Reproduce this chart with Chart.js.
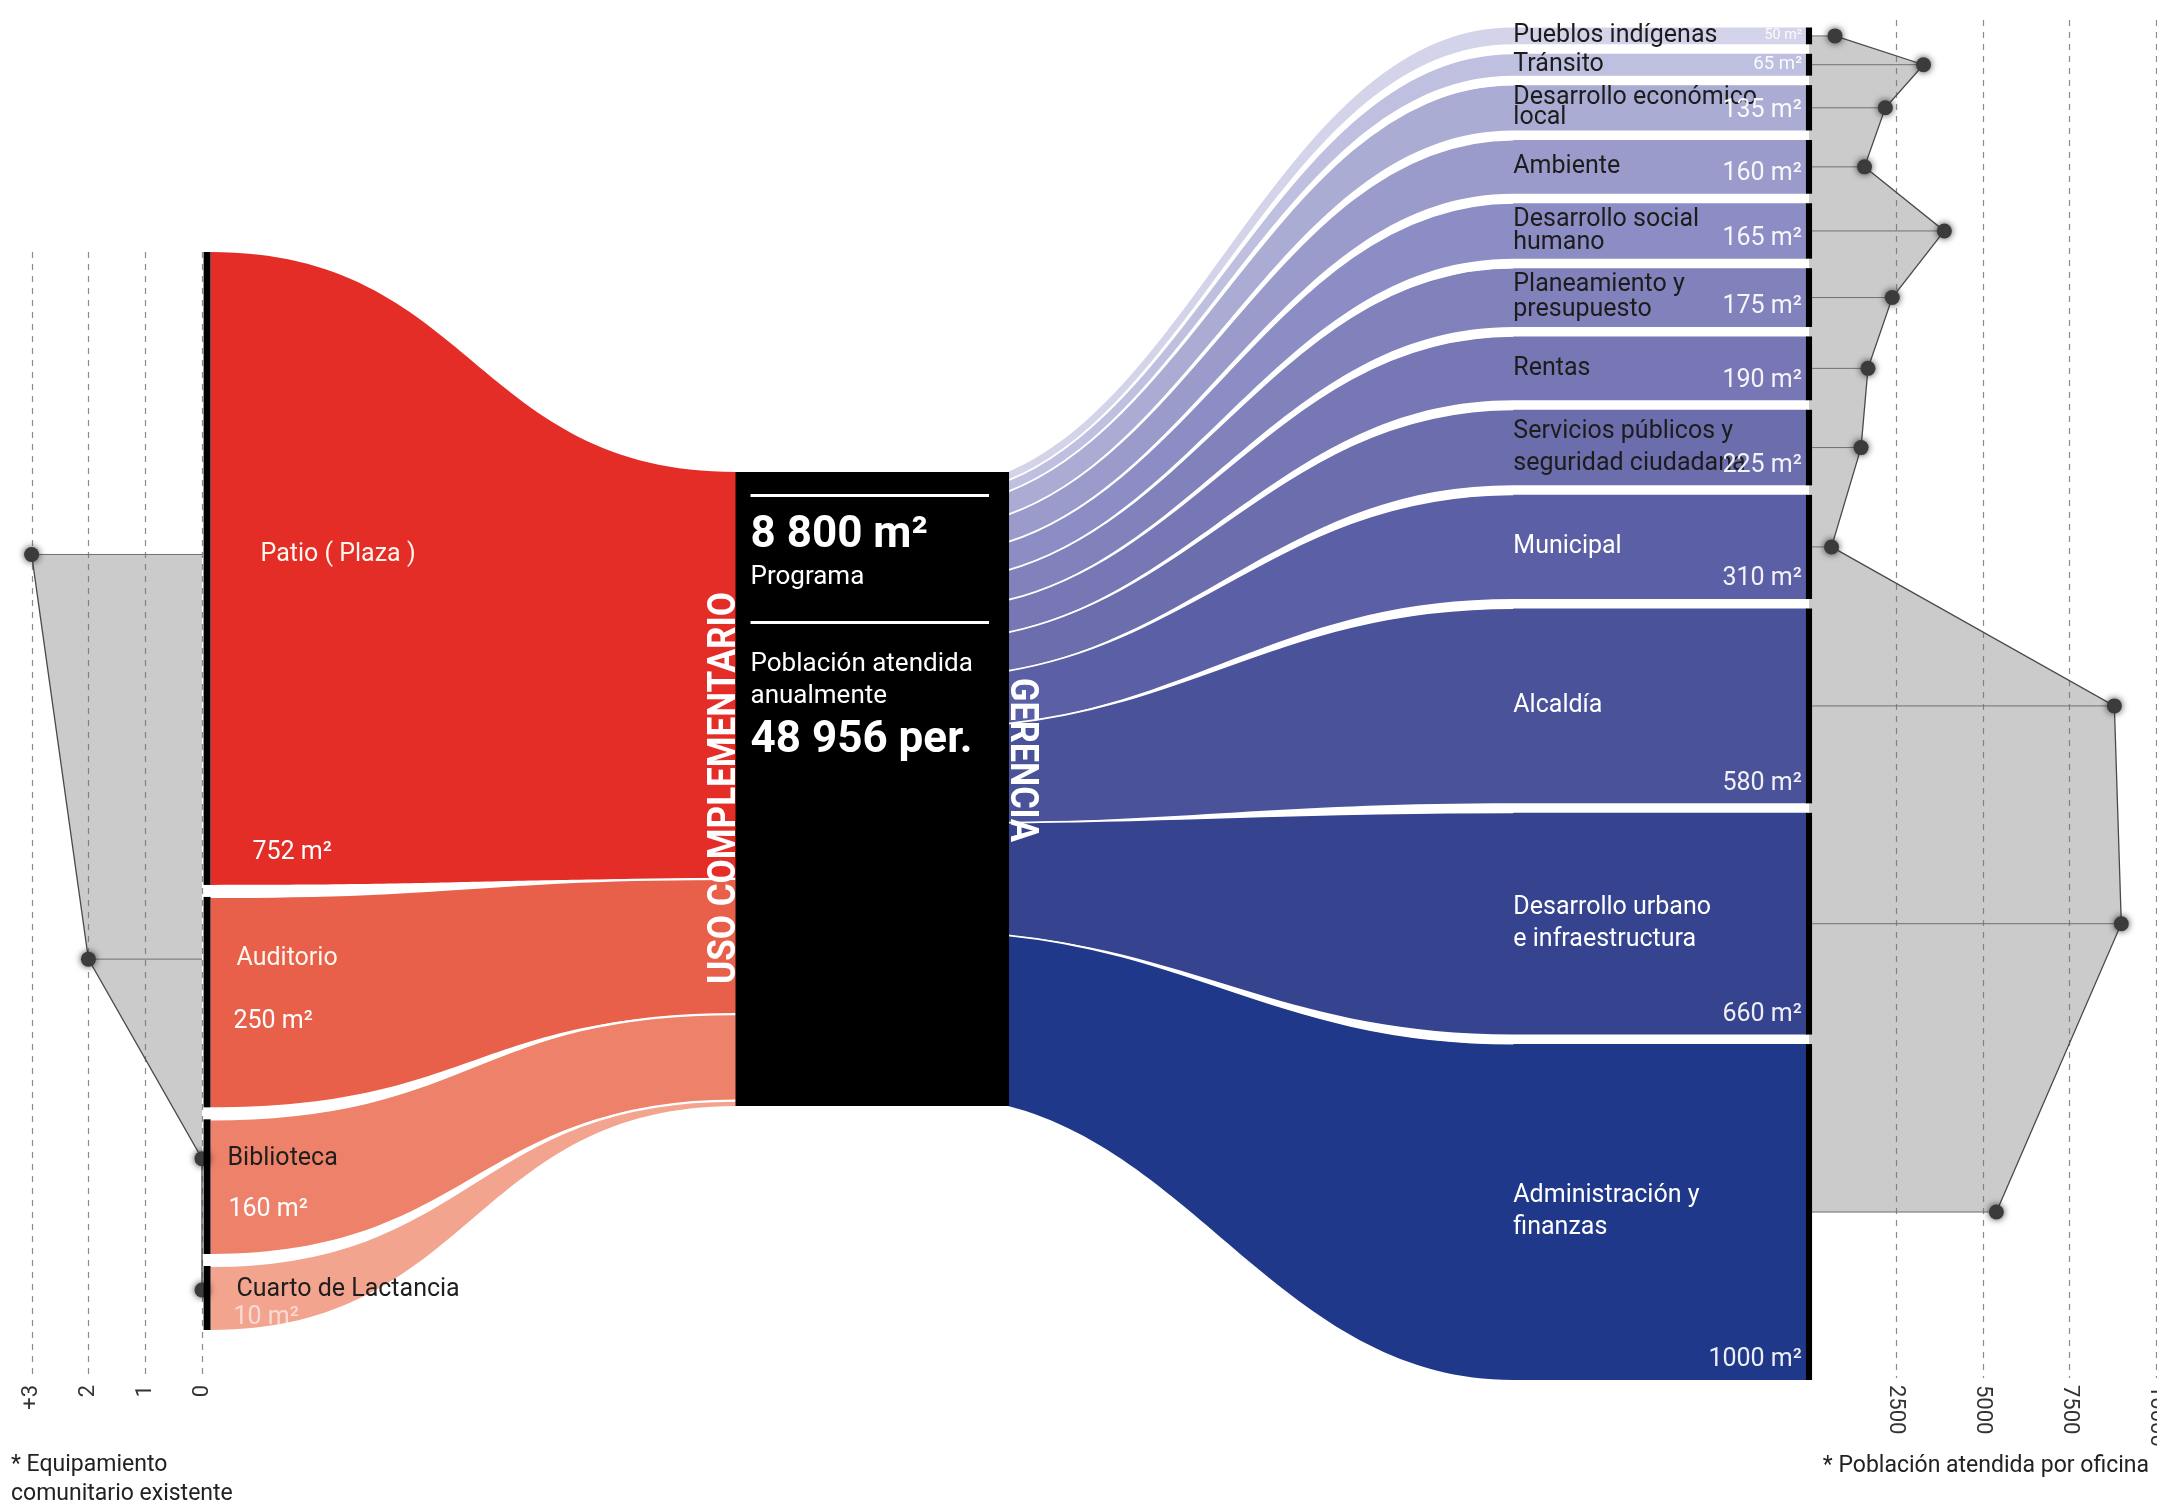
<!DOCTYPE html>
<html lang="es">
<head>
<meta charset="utf-8">
<title>Programa – uso complementario y gerencia</title>
<script src="https://cdn.jsdelivr.net/npm/chart.js@4.4.1/dist/chart.umd.min.js"></script>
<style>
  html, body { margin: 0; padding: 0; background: #ffffff; }
  canvas { display: block; }
</style>
</head>
<body>
<canvas id="chart" width="2157" height="1508"></canvas>
<script>
// ================= DATA =================
const leftCategories = [['Patio ( Plaza )'], ['Auditorio'], ['Biblioteca'], ['Cuarto de Lactancia']];
const leftAreas = [752, 250, 160, 10];                 // m²
const leftAreaLabels = ['752 m²', '250 m²', '160 m²', '10 m²'];
const leftEquipment = [3, 2, 0, 0];                    // equipamiento comunitario existente
const leftTickValues = [0, 1, 2, 3];
const leftTickLabels = ['0', '1', '2', '+3'];

const rightCategories = [
  ['Pueblos indígenas'], ['Tránsito'], ['Desarrollo económico', 'local'], ['Ambiente'],
  ['Desarrollo social', 'humano'], ['Planeamiento y', 'presupuesto'], ['Rentas'],
  ['Servicios públicos y', 'seguridad ciudadana'], ['Municipal'], ['Alcaldía'],
  ['Desarrollo urbano', 'e infraestructura'], ['Administración y', 'finanzas']
];
const rightAreas = [50, 65, 135, 160, 165, 175, 190, 225, 310, 580, 660, 1000];   // m²
const rightAreaLabels = ['50 m²', '65 m²', '135 m²', '160 m²', '165 m²', '175 m²', '190 m²', '225 m²', '310 m²', '580 m²', '660 m²', '1000 m²'];
const rightPopulation = [750, 3300, 2200, 1600, 3900, 2400, 1700, 1500, 650, 8800, 9000, 5400]; // población atendida por oficina
const rightTickValues = [2500, 5000, 7500, 10000];
const rightTickLabels = ['2500', '5000', '7500', '10000'];

const programArea = '8 800 m²';
const programLabel = 'Programa';
const populationLabel = ['Población atendida', 'anualmente'];
const populationTotal = '48 956 per.';
const groupLeft = 'USO COMPLEMENTARIO';
const groupRight = 'GERENCIA';
const noteLeft = ['* Equipamiento', 'comunitario existente'];
const noteRight = '* Población atendida por oficina';

// ================= STYLE / LAYOUT =================
const FONT = 'Roboto, "Noto Sans", "Liberation Sans", sans-serif';
const LEFT_COLORS = ['#e42d27', '#e9604a', '#ee8169', '#f3a48f'];
const LEFT_NAME_COLORS = ['#fff6ee', '#fff6ee', '#1e1e1e', '#1e1e1e'];
const LEFT_VALUE_COLORS = ['#ffffff', '#ffffff', '#ffffff', 'rgba(255,255,255,0.6)'];
const RIGHT_COLORS = ['#d3d3e9', '#bfc0df', '#abacd4', '#9a9bcb', '#8c8dc4', '#8182bc',
                      '#7677b4', '#6b6dac', '#5b5fa5', '#4a5399', '#364490', '#20388a'];
const RIGHT_NAME_COLORS = ['#1c1c1c', '#1c1c1c', '#1c1c1c', '#1c1c1c', '#1c1c1c', '#1c1c1c',
                           '#1c1c1c', '#1c1c1c', '#ffffff', '#ffffff', '#ffffff', '#ffffff'];
const GREY_FILL = 'rgba(118,118,118,0.38)';
const POINT_COLOR = '#3b3b3b';

// sankey x positions, in percent of the sankey band (xS scale)
const SANKEY_X = { leftBar: [0.10, 0.53], block: [33.2, 50.22], curveEnd: 81.6, rightBar: [99.81, 100.19] };
// curve shape: [first control x-fraction, first control y-fraction, second control x-fraction]
const LEFT_CURVE = [0.5, 0, 0.5];
const RIGHT_CURVE = [0.38, 0.18, 0.56];
// vertical layout in y-scale units
const LEFT_STACK = { top: 252, bottom: 1330, gap: 12, minSize: 64 };
const RIGHT_STACK = { top: 27.5, bottom: 1380, gap: 9.5, minSize: 0 };
const CENTRE = { top: 472, bottom: 1106 };
const LEFT_LABEL = { nameDx: [50, 26, 17, 26], nameDy: [-14, -43, -28, -8], valueDx: [42, 23, 18, 23], valueDy: [284, 20, 23, 20] };
const GRID = { leftTop: 252, rightTop: 20, bottom: 1378, labelY: 1385 };

// ================= SANKEY STACK LAYOUT =================
function stackNodes(values, st) {
  const n = values.length;
  const avail = st.bottom - st.top - st.gap * (n - 1);
  const fixed = values.map(() => false);
  let k = 1;
  for (let it = 0; it < 6; it++) {
    const fixedSum = fixed.reduce((s, f) => s + (f ? st.minSize : 0), 0);
    const varSum = values.reduce((s, v, i) => s + (fixed[i] ? 0 : v), 0);
    k = (avail - fixedSum) / varSum;
    values.forEach((v, i) => { if (v * k < st.minSize) fixed[i] = true; });
  }
  let y = st.top;
  return values.map((v, i) => {
    const h = fixed[i] ? st.minSize : v * k;
    const node = { y0: y, y1: y + h, c: y + h / 2, h };
    y += h + st.gap;
    return node;
  });
}
function stackPorts(values, top, bottom) {
  const total = values.reduce((a, b) => a + b, 0);
  let y = top;
  return values.map(v => {
    const h = (bottom - top) * v / total;
    const p = { y0: y, y1: y + h };
    y += h;
    return p;
  });
}
const leftNodes = stackNodes(leftAreas, LEFT_STACK);
const rightNodes = stackNodes(rightAreas, RIGHT_STACK);
const leftPorts = stackPorts(leftAreas, CENTRE.top, CENTRE.bottom);
const rightPorts = stackPorts(rightAreas, CENTRE.top, CENTRE.bottom);
const leftAnchors = leftNodes.map((n, i) => n.c + LEFT_LABEL.nameDy[i]);
const rightAnchors = rightNodes.map(n => n.c);

// ================= DATASETS =================
const lastL = leftAnchors.length - 1, lastR = rightAnchors.length - 1;
const leftPts = leftEquipment.map((v, i) => ({ x: v, y: leftAnchors[i] }));
const rightPts = rightPopulation.map((v, i) => ({ x: v, y: rightAnchors[i] }));
function leaders(vals, anchors) {
  const out = [];
  vals.forEach((v, i) => { out.push({ x: 0, y: anchors[i] }, { x: v, y: anchors[i] }, { x: null, y: null }); });
  return out;
}
const common = { showLine: true, clip: false, tension: 0, pointRadius: 0, spanGaps: false };
const datasets = [
  Object.assign({}, common, { label: 'left area', xAxisID: 'xL', yAxisID: 'y', order: 5, fill: 'shape',
    backgroundColor: GREY_FILL, borderWidth: 0,
    data: [{ x: 0, y: leftAnchors[0] }, ...leftPts, { x: 0, y: leftAnchors[lastL] }] }),
  Object.assign({}, common, { label: 'right area', xAxisID: 'xR', yAxisID: 'y', order: 5, fill: 'shape',
    backgroundColor: GREY_FILL, borderWidth: 0,
    data: [{ x: 0, y: rightAnchors[0] }, ...rightPts, { x: 0, y: rightAnchors[lastR] }] }),
  Object.assign({}, common, { label: 'left leaders', xAxisID: 'xL', yAxisID: 'y', order: 4, fill: false,
    borderColor: '#707070', borderWidth: 1, data: leaders(leftEquipment, leftAnchors) }),
  Object.assign({}, common, { label: 'right leaders', xAxisID: 'xR', yAxisID: 'y', order: 4, fill: false,
    borderColor: '#707070', borderWidth: 1, data: leaders(rightPopulation, rightAnchors) }),
  Object.assign({}, common, { label: 'left line', xAxisID: 'xL', yAxisID: 'y', order: 3, fill: false,
    borderColor: '#4a4a4a', borderWidth: 1.3, data: leftPts }),
  Object.assign({}, common, { label: 'right line', xAxisID: 'xR', yAxisID: 'y', order: 3, fill: false,
    borderColor: '#4a4a4a', borderWidth: 1.3, data: rightPts }),
  { label: 'left points', xAxisID: 'xL', yAxisID: 'y', order: 1, showLine: false, clip: false, shadow: true,
    pointRadius: 7.5, pointBackgroundColor: POINT_COLOR, pointBorderWidth: 0, data: leftPts },
  { label: 'right points', xAxisID: 'xR', yAxisID: 'y', order: 1, showLine: false, clip: false, shadow: true,
    pointRadius: 7.5, pointBackgroundColor: POINT_COLOR, pointBorderWidth: 0, data: rightPts }
];

// ================= DRAW HELPERS =================
// curve from (xa,a) to (xb,b) with shape k
function curveTo(ctx, xa, a, xb, b, k, backwards) {
  const dx = xb - xa;
  if (!backwards) {
    ctx.bezierCurveTo(xa + k[0] * dx, a + k[1] * (b - a), xa + k[2] * dx, b, xb, b);
  } else { // drawing from (xb,b) back to (xa,a)
    ctx.bezierCurveTo(xa + k[2] * dx, b, xa + k[0] * dx, a + k[1] * (b - a), xa, a);
  }
}
function ribbon(ctx, xa, a0, a1, xb, b0, b1, k, xEnd) {
  ctx.beginPath();
  ctx.moveTo(xa, a0);
  curveTo(ctx, xa, a0, xb, b0, k, false);
  if (xEnd !== undefined) { ctx.lineTo(xEnd, b0); ctx.lineTo(xEnd, b1); }
  ctx.lineTo(xb, b1);
  curveTo(ctx, xa, a1, xb, b1, k, true);
  ctx.closePath();
}
function edge(ctx, xa, a, xb, b, k) {
  ctx.beginPath(); ctx.moveTo(xa, a); curveTo(ctx, xa, a, xb, b, k, false); ctx.stroke();
}
function text(ctx, str, x, y, font, color, align, baseline) {
  ctx.font = font; ctx.fillStyle = color; ctx.textAlign = align || 'left'; ctx.textBaseline = baseline || 'middle';
  ctx.fillText(str, x, y);
}
function rotText(ctx, str, x, y, angle, font, color, align, baseline, targetLen) {
  ctx.save(); ctx.translate(x, y); ctx.rotate(angle);
  ctx.font = font; ctx.fillStyle = color; ctx.textAlign = align; ctx.textBaseline = baseline;
  if (targetLen) { const w = ctx.measureText(str).width; ctx.scale(targetLen / w, 1); }
  ctx.fillText(str, 0, 0); ctx.restore();
}

const sankeyPlugin = {
  id: 'sankeyDiagram',
  beforeDraw(chart) {
    const c = chart.ctx; c.save(); c.fillStyle = '#ffffff'; c.fillRect(0, 0, chart.width, chart.height); c.restore();
  },
  beforeDatasetsDraw(chart) {
    const { ctx } = chart; const { xL, xS, xR, y } = chart.scales;
    const X = v => xS.getPixelForValue(v), Y = v => y.getPixelForValue(v);
    ctx.save();
    // dashed grid lines of the two side axes
    ctx.setLineDash([6, 6]); ctx.strokeStyle = '#8c8c8c'; ctx.lineWidth = 1.2;
    leftTickValues.forEach(t => { const px = Math.round(xL.getPixelForValue(t)) + 0.5;
      ctx.beginPath(); ctx.moveTo(px, Y(GRID.leftTop)); ctx.lineTo(px, Y(GRID.bottom)); ctx.stroke(); });
    rightTickValues.forEach(t => { const px = Math.round(xR.getPixelForValue(t)) + 0.5;
      ctx.beginPath(); ctx.moveTo(px, Y(GRID.rightTop)); ctx.lineTo(px, Y(GRID.bottom)); ctx.stroke(); });
    ctx.setLineDash([]);

    // left flows (uso complementario)
    const la = X(SANKEY_X.leftBar[1]), lb = X(SANKEY_X.block[0]);
    leftNodes.forEach((n, i) => {
      const p = leftPorts[i];
      ctx.fillStyle = LEFT_COLORS[i];
      ribbon(ctx, la, Y(n.y0), Y(n.y1), lb + 1, Y(p.y0), Y(p.y1), LEFT_CURVE);
      ctx.fill();
    });
    ctx.strokeStyle = '#ffffff'; ctx.lineWidth = 2.2;
    leftNodes.forEach((n, i) => { if (i > 0) edge(ctx, la, Y(n.y0), lb, Y(leftPorts[i].y0), LEFT_CURVE); });

    // right flows (gerencia)
    const ra = X(SANKEY_X.block[1]) - 1, rb = X(SANKEY_X.curveEnd), re = X(SANKEY_X.rightBar[0]) + 1;
    rightNodes.forEach((n, i) => {
      const p = rightPorts[i];
      ctx.fillStyle = RIGHT_COLORS[i];
      ribbon(ctx, ra, Y(p.y0), Y(p.y1), rb, Y(n.y0), Y(n.y1), RIGHT_CURVE, re);
      ctx.fill();
    });
    ctx.strokeStyle = '#ffffff'; ctx.lineWidth = 1.8;
    rightNodes.forEach((n, i) => { if (i > 0) edge(ctx, ra, Y(rightPorts[i].y0), rb, Y(n.y0) - 0.5, RIGHT_CURVE); });
    ctx.restore();
  },
  beforeDatasetDraw(chart, args) {
    if (chart.data.datasets[args.index].shadow) {
      const c = chart.ctx; c.save(); c.shadowColor = 'rgba(0,0,0,0.75)'; c.shadowBlur = 7;
    }
  },
  afterDatasetDraw(chart, args) {
    if (chart.data.datasets[args.index].shadow) chart.ctx.restore();
  },
  afterDatasetsDraw(chart) {
    const { ctx } = chart; const { xL, xS, xR, y } = chart.scales;
    const X = v => xS.getPixelForValue(v), Y = v => y.getPixelForValue(v);
    ctx.save();
    // node bars
    ctx.fillStyle = '#000000';
    leftNodes.forEach(n => ctx.fillRect(X(SANKEY_X.leftBar[0]), Y(n.y0), X(SANKEY_X.leftBar[1]) - X(SANKEY_X.leftBar[0]), Y(n.y1) - Y(n.y0)));
    rightNodes.forEach(n => ctx.fillRect(X(SANKEY_X.rightBar[0]), Y(n.y0), X(SANKEY_X.rightBar[1]) - X(SANKEY_X.rightBar[0]), Y(n.y1) - Y(n.y0)));
    // central block
    const bx0 = X(SANKEY_X.block[0]), bx1 = X(SANKEY_X.block[1]);
    ctx.fillRect(bx0, Y(CENTRE.top), bx1 - bx0, Y(CENTRE.bottom) - Y(CENTRE.top));

    // central texts
    const tx = bx0 + 15, rx1 = bx1 - 20;
    ctx.fillStyle = '#ffffff';
    ctx.fillRect(tx, Y(494), rx1 - tx, 3);
    ctx.fillRect(tx, Y(621), rx1 - tx, 3);
    text(ctx, programArea, tx, Y(536), 'bold 44px ' + FONT, '#ffffff');
    text(ctx, programLabel, tx, Y(577), '26px ' + FONT, '#ffffff');
    text(ctx, populationLabel[0], tx, Y(664), '26px ' + FONT, '#ffffff');
    text(ctx, populationLabel[1], tx, Y(696), '26px ' + FONT, '#ffffff');
    text(ctx, populationTotal, tx, Y(741), 'bold 44px ' + FONT, '#ffffff');

    // group titles
    rotText(ctx, groupLeft, bx0 - 1, Y(788), -Math.PI / 2, 'bold 38px ' + FONT, '#ffffff', 'center', 'alphabetic', 392);
    rotText(ctx, groupRight, bx1 + 2, Y(760), Math.PI / 2, 'bold 38px ' + FONT, '#ffffff', 'center', 'alphabetic', 164);

    // left node labels
    const lx = X(SANKEY_X.leftBar[1]);
    leftNodes.forEach((n, i) => {
      text(ctx, leftCategories[i][0], lx + LEFT_LABEL.nameDx[i], Y(n.c + LEFT_LABEL.nameDy[i]), '25px ' + FONT, LEFT_NAME_COLORS[i]);
      text(ctx, leftAreaLabels[i], lx + LEFT_LABEL.valueDx[i], Y(n.c + LEFT_LABEL.valueDy[i]), '25px ' + FONT, LEFT_VALUE_COLORS[i]);
    });

    // right node labels
    const nx = X(SANKEY_X.curveEnd), vx = X(SANKEY_X.rightBar[0]) - 4;
    rightNodes.forEach((n, i) => {
      const lines = rightCategories[i];
      const lh = Math.max(20, Math.min(32, n.h * 0.42));
      lines.forEach((s, j) => {
        const yy = n.c + (j - (lines.length - 1) / 2) * lh;
        text(ctx, s, nx, Y(yy), '25px ' + FONT, RIGHT_NAME_COLORS[i]);
      });
      const fs = Math.min(25, n.h * 0.85);
      const vy = Math.max(n.c, n.y1 - 20);
      text(ctx, rightAreaLabels[i], vx, Y(vy), fs.toFixed(1) + 'px ' + FONT, 'rgba(255,255,255,0.92)', 'right');
    });

    // axis tick labels
    leftTickValues.forEach((t, i) => rotText(ctx, leftTickLabels[i], xL.getPixelForValue(t), Y(GRID.labelY), -Math.PI / 2, '22px ' + FONT, '#333333', 'right', 'middle'));
    rightTickValues.forEach((t, i) => rotText(ctx, rightTickLabels[i], xR.getPixelForValue(t), Y(GRID.labelY), Math.PI / 2, '22px ' + FONT, '#333333', 'left', 'middle'));

    // notes
    text(ctx, noteLeft[0], 11, 1465, '23px ' + FONT, '#222222');
    text(ctx, noteLeft[1], 11, 1494, '23px ' + FONT, '#222222');
    text(ctx, noteRight, 2149, 1466, '23px ' + FONT, '#222222', 'right');
    ctx.restore();
  }
};

// ================= CHART =================
new Chart(document.getElementById('chart'), {
  type: 'scatter',
  data: { datasets },
  options: {
    responsive: false,
    maintainAspectRatio: false,
    animation: false,
    events: [],
    layout: { padding: { left: 31.6, right: 1, top: 0, bottom: 0 }, autoPadding: false },
    plugins: { legend: { display: false }, tooltip: { enabled: false } },
    scales: {
      xL: { axis: 'x', type: 'linear', position: 'bottom', stack: 'band', stackWeight: 170.4, weight: 0,
            min: 0, max: 3, reverse: true, display: false },
      xS: { axis: 'x', type: 'linear', position: 'bottom', stack: 'band', stackWeight: 1607, weight: 1,
            min: 0, max: 100, display: false },
      xR: { axis: 'x', type: 'linear', position: 'bottom', stack: 'band', stackWeight: 347, weight: 2,
            min: 0, max: 10000, display: false },
      y:  { axis: 'y', type: 'linear', position: 'left', min: 0, max: 1508, reverse: true, display: false }
    }
  },
  plugins: [sankeyPlugin]
});
</script>
</body>
</html>
